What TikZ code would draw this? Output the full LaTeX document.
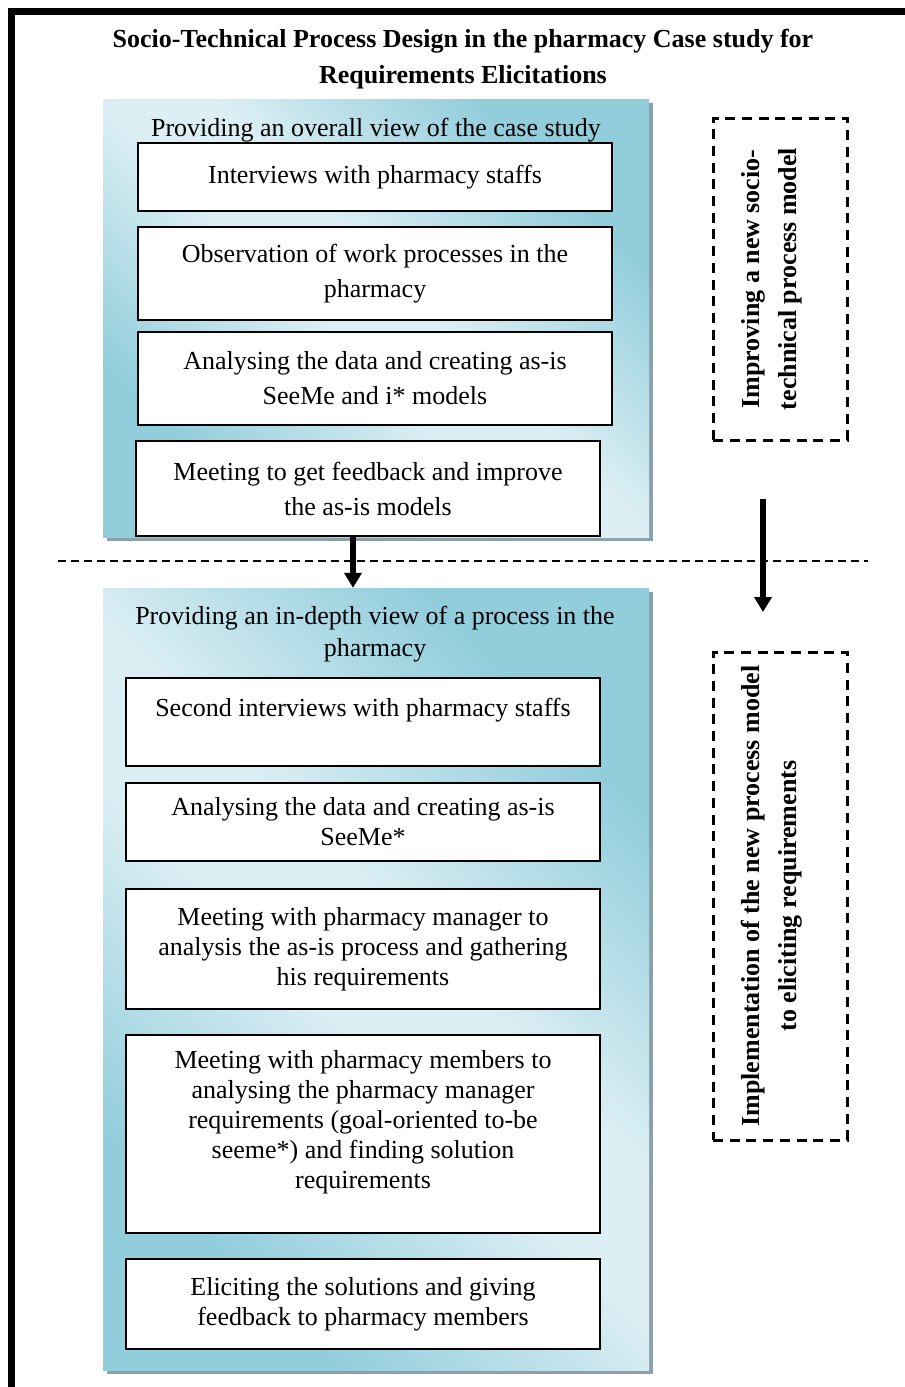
\documentclass[tikz,border=0pt]{standalone}
\usepackage{fontspec}
\setmainfont{Liberation Serif}
\usetikzlibrary{arrows.meta,shadows}

\definecolor{aquadark}{RGB}{146,205,220}
\definecolor{aqualight}{RGB}{220,239,244}
\definecolor{panelshadow}{RGB}{140,160,170}

% diagonal aqua fill: light along one diagonal, darker towards the other two corners
\pgfdeclareverticalshading{panelfill}{100bp}{%
  color(0bp)=(aquadark); color(27bp)=(aquadark); color(46bp)=(aqualight);
  color(54bp)=(aqualight); color(73bp)=(aquadark); color(100bp)=(aquadark)}

\tikzset{
  frame/.style={line width=6.5pt},
  panel/.style={rectangle, inner sep=0pt, minimum width=546pt, shade, shading=panelfill,
    shading angle=-45,
    general shadow={fill=panelshadow, shadow xshift=4pt, shadow yshift=-4pt}},
  headtext/.style={inner sep=0pt, align=center, font=\fontsize{26}{32}\selectfont},
  stepbox/.style={rectangle, draw=black, line width=1.5pt, fill=white, inner sep=0pt,
    minimum width=474pt, align=center, font=\fontsize{26}{35}\selectfont},
  lowbox/.style={stepbox, font=\fontsize{26}{30}\selectfont},
  titletext/.style={inner sep=0pt, align=center, font=\bfseries\fontsize{26}{36}\selectfont},
  dashbox/.style={rectangle, draw=black, line width=3pt, dash pattern=on 10pt off 6.7pt,
    inner sep=0pt, minimum width=134pt},
  sidetext/.style={inner sep=0pt, rotate=90, align=center, font=\bfseries\fontsize{26}{37}\selectfont},
  divider/.style={line width=1.8pt, dash pattern=on 8pt off 5pt},
  bigarrow/.style={line width=5.5pt, -{Triangle[width=17pt,length=15pt]}}
}

\begin{document}
\begin{tikzpicture}[x=1pt,y=-1pt]
\useasboundingbox (0,0) rectangle (905,1387);

% outer frame (top and left edges)
\coordinate (fTR) at (905,11.5);
\coordinate (fTL) at (11.5,11.5);
\coordinate (fBL) at (11.5,1387);
\draw[frame] (fTR) -- (fTL) -- (fBL);

% title
\node[titletext] (title) at (463,59)
  {Socio-Technical Process Design in the pharmacy Case study for\\Requirements Elicitations};

% first phase
\node[panel, minimum height=438pt] (panel1) at (376,318) {};
\node[headtext] (head1) at (376,130) {Providing an overall view of the case study};
\node[stepbox, minimum height=68pt] (s1) at (375,177) {Interviews with pharmacy staffs};
\node[stepbox, minimum height=93pt] (s2) at (375,273.5)
  {Observation of work processes in the\\pharmacy};
\node[stepbox, minimum height=93pt] (s3) at (375,378.5)
  {Analysing the data and creating as-is\\SeeMe and i* models};
\node[stepbox, minimum width=464pt, minimum height=95pt] (s4) at (368,488.5)
  {Meeting to get feedback and improve\\the as-is models};

% second phase
\node[panel, minimum height=782pt] (panel2) at (376,979) {};
\node[headtext] (head2) at (375,634)
  {Providing an in-depth view of a process in the\\pharmacy};
\node[lowbox, minimum height=88pt] (t1) at (363,722)
  {Second interviews with pharmacy staffs\\\mbox{}};
\node[lowbox, minimum height=78pt] (t2) at (363,822)
  {Analysing the data and creating as-is\\SeeMe*};
\node[lowbox, minimum height=120pt] (t3) at (363,949)
  {Meeting with pharmacy manager to\\analysis the as-is process and gathering\\his requirements};
\node[lowbox, minimum height=198pt] (t4) at (363,1134)
  {Meeting with pharmacy members to\\analysing the pharmacy manager\\requirements (goal-oriented to-be\\seeme*) and finding solution\\requirements\\\mbox{}};
\node[lowbox, minimum height=90pt] (t5) at (363,1304)
  {Eliciting the solutions and giving\\feedback to pharmacy members};

% side annotations
\node[dashbox, minimum height=322pt] (d1) at (780,279) {};
\node[sidetext] (d1text) at (771.5,279) {Improving a new socio-\\technical process model};
\node[dashbox, minimum height=488pt] (d2) at (780,896) {};
\node[sidetext] (d2text) at (771.5,896)
  {Implementation of the new process model\\to eliciting requirements};

% phase separator
\coordinate (sepL) at (58,561);
\coordinate (sepR) at (868,561);
\draw[divider] (sepL) -- (sepR);

% arrows
\coordinate (a1) at (353,0);
\draw[bigarrow] (s4.south -| a1) -- (panel2.north -| a1);
\coordinate (a2s) at (763,499);
\coordinate (a2e) at (763,612);
\draw[bigarrow] (a2s) -- (a2e);
\end{tikzpicture}
\end{document}
